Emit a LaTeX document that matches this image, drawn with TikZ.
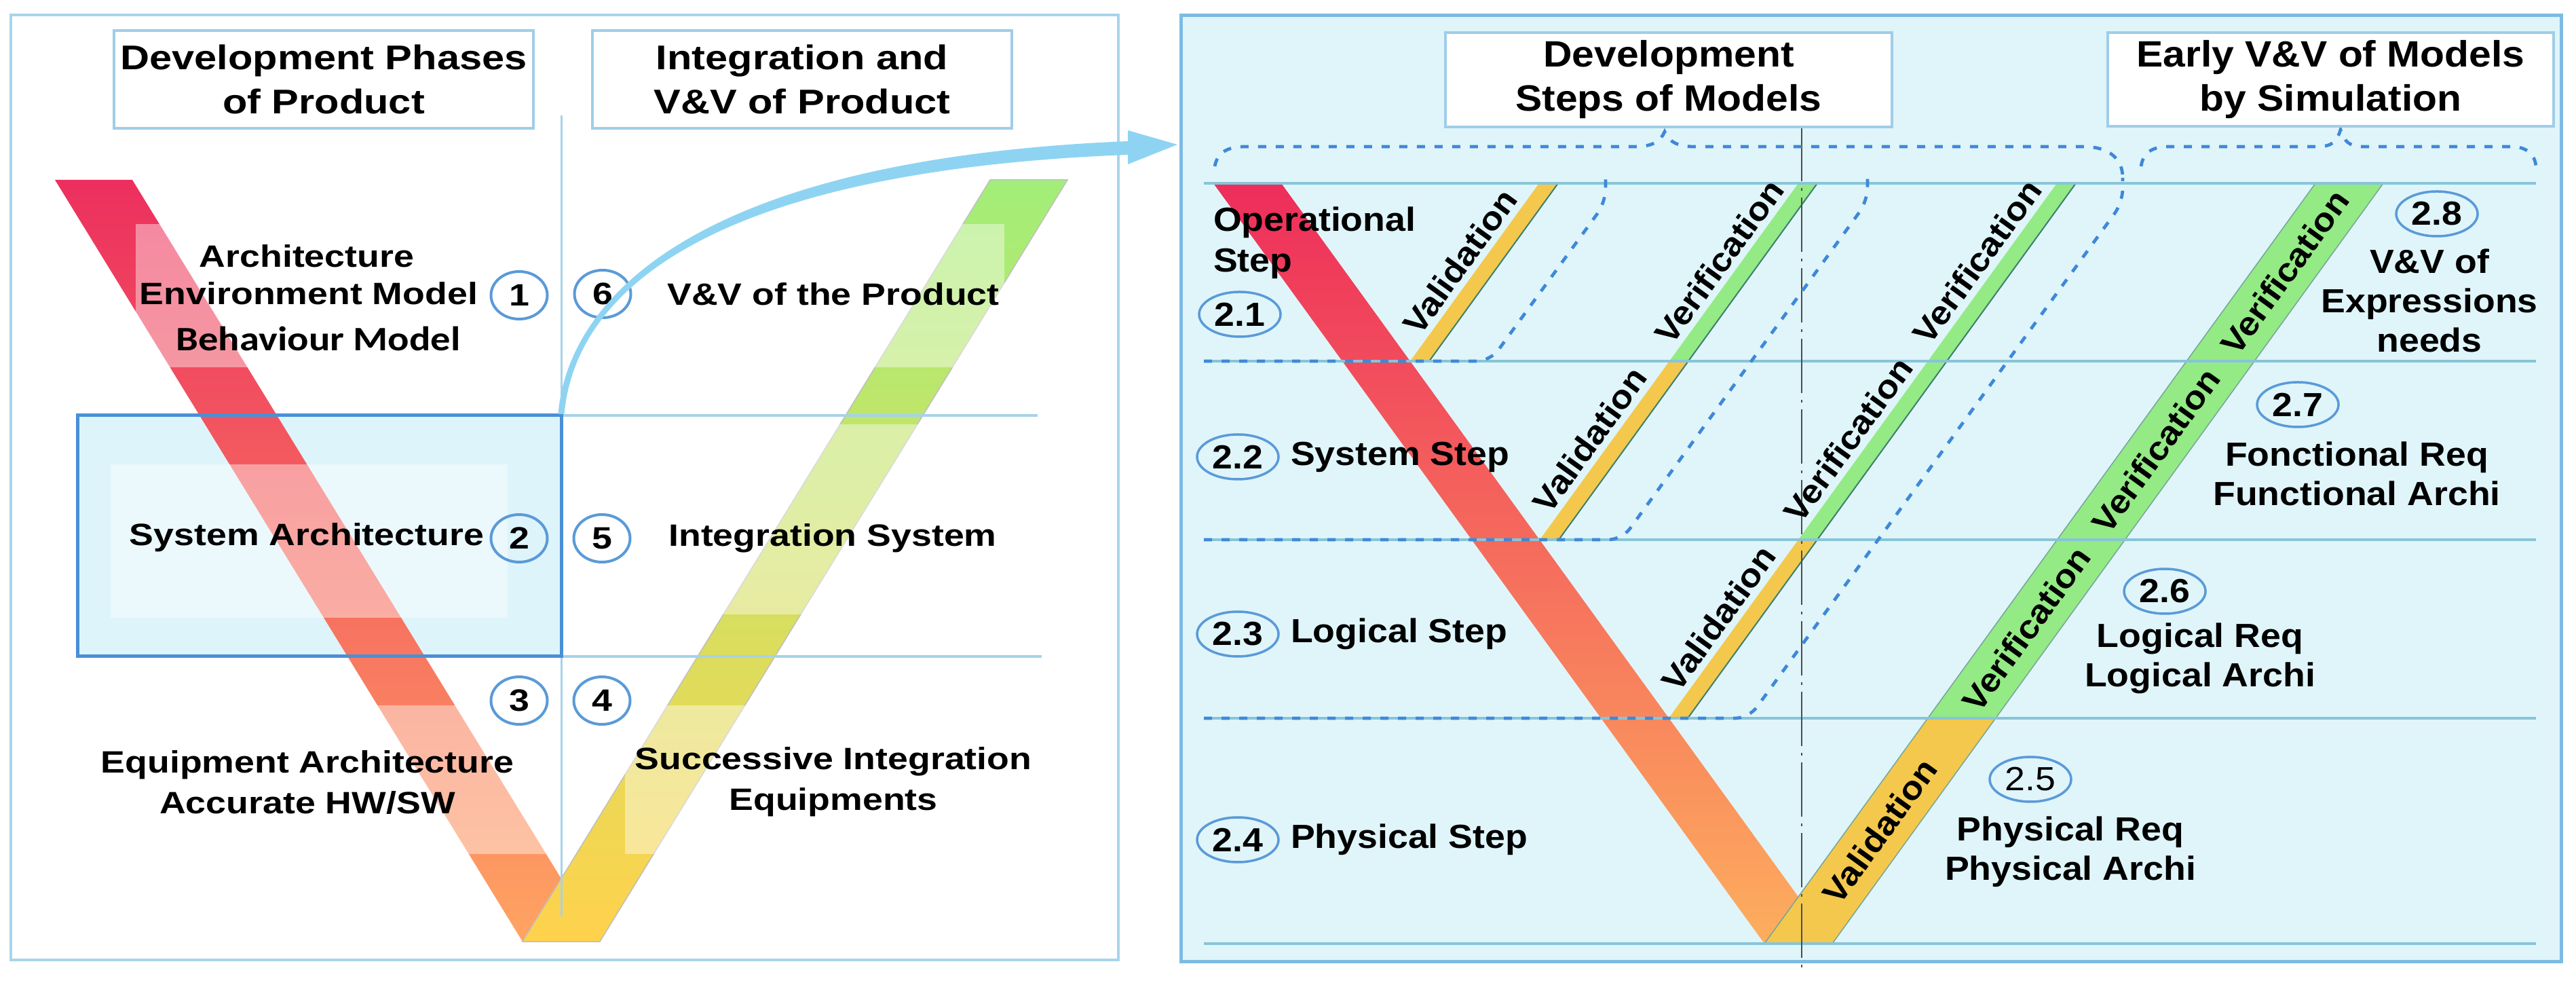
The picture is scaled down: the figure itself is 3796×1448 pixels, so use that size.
\documentclass[tikz,border=0pt]{standalone}
\usepackage{fontspec}
\setmainfont{Liberation Sans}
\newfontfamily\Lf[FakeStretch=1.18]{Liberation Sans}
\newfontfamily\Rf[FakeStretch=1.09]{Liberation Sans}
\newfontfamily\Cf[FakeStretch=1.16]{Carlito}
\usetikzlibrary{shapes.geometric,arrows.meta}
\definecolor{lborder}{HTML}{A8D4EC}
\definecolor{rborder}{HTML}{7DBBE3}
\definecolor{panelbg}{HTML}{DFF5FA}
\definecolor{hdrline}{HTML}{A0CDE8}
\definecolor{numline}{HTML}{5A9AD8}
\definecolor{sysblue}{HTML}{4A8FD6}
\definecolor{sysfill}{HTML}{DDF4FA}
\definecolor{thinblue}{HTML}{A6D2EA}
\definecolor{arrowblue}{HTML}{8ED4F2}
\definecolor{hline}{HTML}{88C4D8}
\definecolor{dashblue}{HTML}{3F88D8}
\definecolor{stripY}{HTML}{F4C84C}
\definecolor{stripG}{HTML}{94EA84}
\definecolor{stripedge}{HTML}{3C7F70}
\definecolor{redA}{HTML}{EC2F5E}
\definecolor{redB}{HTML}{F8566A}
\definecolor{redC}{HTML}{FFA462}
\definecolor{grA}{HTML}{A2EE78}
\definecolor{grB}{HTML}{D6F25A}
\definecolor{grC}{HTML}{FFD24C}
\definecolor{rredA}{HTML}{EE2D5B}
\definecolor{rredB}{HTML}{F5566A}
\definecolor{rredC}{HTML}{FDAE5E}
\begin{document}
\begin{tikzpicture}[x=0.2pt,y=-0.2pt,
 lhead/.style={font=\Lf\bfseries\fontsize{10.1}{13}\selectfont, align=center, inner sep=0pt},
 lbody/.style={font=\Lf\bfseries\fontsize{9.1}{12}\selectfont, align=center, inner sep=0pt},
 cbody/.style={font=\Cf\bfseries\fontsize{10.1}{12}\selectfont, inner sep=0pt},
 rhead/.style={font=\Rf\bfseries\fontsize{10.8}{13}\selectfont, align=center, inner sep=0pt},
 rbody/.style={font=\Rf\bfseries\fontsize{9.85}{11.6}\selectfont, align=center, inner sep=0pt},
 hbox/.style={draw=hdrline, line width=0.8pt, fill=white},
 lnum/.style={ellipse, draw=numline, line width=0.8pt, minimum width=16.6pt, minimum height=14pt, inner sep=0pt, font=\Lf\bfseries\fontsize{9.1}{10}\selectfont},
 rnum/.style={ellipse, draw=numline, line width=0.7pt, minimum width=24pt, minimum height=13.2pt, inner sep=0pt, font=\Rf\bfseries\fontsize{9.85}{10}\selectfont},
 vlab/.style={font=\Rf\bfseries\fontsize{9.7}{10}\selectfont, rotate=54.06, inner sep=1.6pt},
 dsh/.style={draw=dashblue, line width=0.95pt, dash pattern=on 2.4pt off 2.8pt},
 overlay/.style={fill=white, fill opacity=0.42},
 edgeln/.style={draw=stripedge, line width=0.4pt}
]
\useasboundingbox (0,0) rectangle (3796,1448);
\fill[white] (0,0) rectangle (3796,1448);

% ================= LEFT PANEL =================
\draw[draw=lborder, line width=0.8pt] (16,22) rectangle (1648,1414);
\fill[sysfill] (114,612) rectangle (827,967);
% V arms
\shade[top color=redA, middle color=redB, bottom color=redC] (81,265) -- (195,265) -- (884,1387) -- (770,1387) -- cycle;
\shade[top color=grA, middle color=grB, bottom color=grC] (1459,265) -- (1573,265) -- (884,1387) -- (770,1387) -- cycle;
\draw[draw=black!25, line width=0.3pt] (1459,265) -- (1573,265) -- (884,1387) -- (770,1387) -- cycle;
% translucent text backdrops
\fill[overlay] (200,330) rectangle (1480,541);
\fill[overlay] (163,684) rectangle (748,910);
\fill[overlay] (880,625) rectangle (1480,905);
\fill[overlay] (110,1039) rectangle (830,1258);
\fill[overlay] (921,1039) rectangle (1480,1258);
% lines
\draw[thinblue, line width=0.8pt] (827,612) -- (1529,612);
\draw[thinblue, line width=0.8pt] (827,967) -- (1535,967);
\draw[thinblue, line width=0.6pt] (827,170) -- (827,1350);
\draw[sysblue, line width=1pt] (114,612) rectangle (827,967);
% headers
\node[hbox, lhead, minimum width=123.6pt, minimum height=28.8pt] (h1) at (477,117) {Development Phases\\of Product};
\node[hbox, lhead, minimum width=123.6pt, minimum height=28.8pt] (h2) at (1182,117) {Integration and\\V\&V of Product};
% texts
\node[lbody] (arch) at (452,377) {Architecture};
\node[lbody] (env) at (455,432) {Environment Model};
\node[cbody] (beh) at (469,499) {Behaviour Model};
\node[lbody] (sysa) at (452,792) {System Architecture};
\node[lbody] (vvp) at (1228,433) {V\&V of the Product};
\node[lbody] (ints) at (1227,793) {Integration System};
\node[lbody] (equ) at (453,1152) {Equipment Architecture\\Accurate HW/SW};
\node[lbody] (suc) at (1228,1152) {Successive Integration\\Equipments};
\node[lnum] (n1) at (765,435) {1};
\node[lnum] (n6) at (888,433) {6};
\node[lnum] (n2) at (765,793) {2};
\node[lnum] (n5) at (887,793) {5};
\node[lnum] (n3) at (765,1032) {3};
\node[lnum] (n4) at (887,1032) {4};

% ================= RIGHT PANEL =================
\draw[fill=panelbg, draw=rborder, line width=1pt] (1740,23) rectangle (3774,1416);
% V
\shade[top color=rredA, middle color=rredB, bottom color=rredC] (1788,270) -- (1888,270) -- (2700,1390) -- (2600,1390) -- cycle;
\fill[stripG] (3412,270) -- (3512,270) -- (2940.7,1058) -- (2840.7,1058) -- cycle;
\fill[stripY] (2840.7,1058) -- (2940.7,1058) -- (2700,1390) -- (2600,1390) -- cycle;
\draw[draw=stripedge!70, line width=0.3pt] (3412,270) -- (2600,1390) (3512,270) -- (2700,1390);
% strips
\fill[stripY] (2078,532) -- (2106,532) -- (2296,270) -- (2268,270) -- cycle;
\fill[stripY] (2269,795) -- (2297,795) -- (2488,532) -- (2460,532) -- cycle;
\fill[stripG] (2460,532) -- (2488,532) -- (2678,270) -- (2650,270) -- cycle;
\fill[stripY] (2459,1058) -- (2487,1058) -- (2678,795) -- (2650,795) -- cycle;
\fill[stripG] (2650,795) -- (2678,795) -- (3059,270) -- (3031,270) -- cycle;
\draw[edgeln] (2106,532) -- (2296,270);
\draw[edgeln] (2297,795) -- (2678,270);
\draw[edgeln] (2487,1058) -- (3059,270);
% horizontal lines
\foreach \yy in {270,532,795,1058,1390} \draw[hline, line width=0.7pt] (1774,\yy) -- (3737,\yy);
% dash-dot axis
\draw[black!70, line width=0.5pt, dash pattern=on 16pt off 2pt on 0.8pt off 2pt] (2655,187) -- (2655,1425);
% dashed loops and braces
\draw[dsh, rounded corners=4pt] (1774,532) -- (2196,532) -- (2366,298) -- (2366,258);
\draw[dsh, rounded corners=4pt] (1774,795) -- (2390,795) -- (2752,296) -- (2752,258);
\draw[dsh, rounded corners=4pt] (1774,1058) -- (2577,1058) -- (3128,298) -- (3128,262);
\draw[dsh] (1790,245) .. controls (1794,225) and (1808,216) .. (1835,216) -- (2410,216)
  .. controls (2435,216) and (2447,208) .. (2453,194)
  .. controls (2459,208) and (2471,216) .. (2496,216) -- (3070,216)
  .. controls (3108,216) and (3128,234) .. (3128,262);
\draw[dsh] (3155,245) .. controls (3158,226) and (3170,216) .. (3195,216) -- (3415,216)
  .. controls (3438,216) and (3444,207) .. (3449,191)
  .. controls (3454,207) and (3460,216) .. (3483,216) -- (3700,216)
  .. controls (3722,216) and (3735,226) .. (3737,245);
% strip labels
\node[vlab, anchor=south] (la1) at (2173,401) {Validation};
\node[vlab, anchor=south] (lb2) at (2364,663.5) {Validation};
\node[vlab, anchor=south] (lb1) at (2555,401) {Verification};
\node[vlab, anchor=south] (lc3) at (2554,926.5) {Validation};
\node[vlab, anchor=south] (lc2) at (2745,663.5) {Verification};
\node[vlab, anchor=south] (lc1) at (2935,401) {Verification};
\node[vlab] (lv1) at (3367,401) {Verification};
\node[vlab] (lv2) at (3177,663.5) {Verification};
\node[vlab] (lv3) at (2986,926.5) {Verification};
\node[vlab] (lv4) at (2770,1224) {Validation};
% headers
\node[hbox, rhead, minimum width=131.6pt, minimum height=27.8pt] (h3) at (2459,117.5) {Development\\Steps of Models};
\node[hbox, rhead, minimum width=131.4pt, minimum height=27.6pt] (h4) at (3434.5,117) {Early V\&V of Models\\by Simulation};
% left texts
\node[rbody, align=left, anchor=west, font=\Rf\bfseries\fontsize{9.85}{12}\selectfont] (op) at (1787,358) {Operational\\Step};
\node[rnum] (n21) at (1827,463) {2.1};
\node[rnum] (n22) at (1824,673) {2.2};
\node[rbody, anchor=west] (ss) at (1901,673) {System Step};
\node[rnum] (n23) at (1824,934) {2.3};
\node[rbody, anchor=west] (ls) at (1901,934) {Logical Step};
\node[rnum] (n24) at (1824,1237) {2.4};
\node[rbody, anchor=west] (ps) at (1901,1237) {Physical Step};
% right texts
\node[rnum] (n28) at (3591,315) {2.8};
\node[rbody] (vve) at (3580,443) {V\&V of\\Expressions\\needs};
\node[rnum] (n27) at (3386,596) {2.7};
\node[rbody] (fr) at (3473,698) {Fonctional Req\\Functional Archi};
\node[rnum] (n26) at (3190,871) {2.6};
\node[rbody] (lr) at (3242,970) {Logical Req\\Logical Archi};
\node[rnum, font=\Rf\fontsize{9.85}{10}\selectfont] (n25) at (2992,1148) {2.5};
\node[rbody] (pr) at (3051,1255) {Physical Req\\Physical Archi};

% ================= ARROW (tapered, from system box corner to right panel) =================
\coordinate (as) at (827,610);
\coordinate (sh) at (1662,218);
\coordinate (ae) at (1735,213);
\fill[arrowblue] ([xshift=-0.9pt]as) .. controls (835,460) and (990,236) .. ([yshift=2pt]sh)
  -- ([yshift=-2pt]sh) .. controls (990,254) and (845,460) .. ([xshift=0.9pt]as) -- cycle;
\fill[arrowblue] ([yshift=5.2pt]sh) -- (ae) -- ([yshift=-4.8pt]sh) -- cycle;
\end{tikzpicture}
\end{document}
